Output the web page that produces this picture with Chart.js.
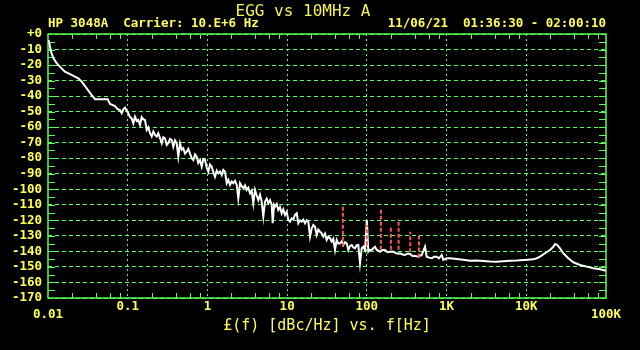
<!DOCTYPE html>
<html>
<head>
<meta charset="utf-8">
<script src="https://cdn.jsdelivr.net/npm/chart.js@4.4.0/dist/chart.umd.min.js"></script>
<style>
  html, body { margin: 0; padding: 0; background: #000; }
</style>
</head>
<body>
<canvas id="chart" width="640" height="350"></canvas>
<script>
// offset frequency [Hz] and phase noise [dBc/Hz]
var freq = [
  0.0101, 0.0103, 0.0109, 0.0117, 0.0129, 0.0141, 0.0163, 0.0189, 0.0218, 0.0240,
  0.0265, 0.0306, 0.0353, 0.0389, 0.0561, 0.0600, 0.0693, 0.0749, 0.0800, 0.0841,
  0.0881, 0.0925, 0.0971, 0.1017, 0.1068, 0.1122, 0.1175, 0.1234, 0.1297, 0.1358,
  0.1426, 0.1498, 0.1569, 0.1648, 0.1730, 0.1813, 0.1904, 0.2000, 0.2095, 0.2200,
  0.2311, 0.2420, 0.2541, 0.2669, 0.2796, 0.2936, 0.3084, 0.3230, 0.3392, 0.3563,
  0.3732, 0.3920, 0.4117, 0.4312, 0.4529, 0.4757, 0.4982, 0.5233, 0.5496, 0.5756,
  0.6046, 0.6350, 0.6650, 0.6985, 0.7337, 0.7684, 0.8071, 0.8478, 0.8878, 0.9325,
  0.9794, 1.026, 1.077, 1.132, 1.185, 1.245, 1.307, 1.369, 1.438, 1.511,
  1.582, 1.662, 1.746, 1.828, 1.920, 2.017, 2.112, 2.218, 2.330, 2.440,
  2.563, 2.692, 2.819, 2.961, 3.110, 3.257, 3.421, 3.593, 3.763, 3.953,
  4.152, 4.348, 4.567, 4.797, 5.024, 5.277, 5.543, 5.805, 6.097, 6.404,
  6.592, 6.844, 7.044, 7.398, 7.748, 8.138, 8.547, 8.951, 9.403, 9.877,
  10.34, 10.87, 11.41, 11.95, 12.56, 13.19, 13.81, 14.51, 15.24, 15.96,
  16.76, 17.61, 18.44, 19.36, 20.34, 21.30, 22.37, 23.50, 24.61, 25.84,
  27.14, 28.43, 29.86, 31.36, 32.85, 34.50, 36.24, 37.95, 39.86, 41.87,
  43.85, 46.06, 48.37, 50.66, 53.21, 55.89, 58.53, 61.48, 64.57, 67.62,
  71.03, 74.61, 78.13, 82.06, 86.19, 90.27, 94.82, 100, 104.3, 109.6,
  115.1, 120.5, 126.6, 133.0, 139.3, 146.3, 157.2, 169.0, 181.6, 195.3,
  209.9, 225.5, 242.4, 260.6, 280.2, 301.1, 323.6, 347.9, 374.0, 401.9,
  442.2, 487.9, 536.7, 563.7, 602.4, 651.3, 696.0, 752.6, 804.3, 869.4,
  910.5, 1004, 1105, 1341, 1609, 1969, 2341, 2891, 3509, 4258,
  5108, 6252, 7588, 9180, 10516, 12255, 13520, 14870, 17180, 19850,
  21840, 22940, 24510, 26500, 29150, 33680, 38910, 47240, 57310, 69350,
  84160, 100000
];
var dbc = [
  -4, -5, -11.4, -15.7, -18.9, -21, -24.3, -25.8, -27.5, -28.5,
  -30.7, -35, -39.3, -42, -42, -45, -46.4, -48.5, -49, -51,
  -48.5, -47.4, -49.4, -51, -53.5, -54.3, -57.5, -53.2, -56, -55.4,
  -58.6, -53.6, -55, -55.4, -61.8, -60, -63.9, -66, -62.9, -65,
  -66, -63.9, -67, -70.4, -66.5, -67.2, -71.5, -70.4, -67.5, -68.3,
  -72.6, -68.5, -70.4, -79, -70.4, -74.5, -73.6, -77, -75.8, -74,
  -76.8, -80, -81.1, -77.5, -79, -83, -81.1, -85.4, -80.5, -81.1,
  -86, -88.7, -84, -85.4, -89, -91.9, -88, -89.7, -88.5, -90.8,
  -87.5, -88.7, -96.1, -94, -97.2, -95, -96.1, -94.5, -97.2, -105.8,
  -96.1, -98, -99.4, -97.5, -100.4, -99, -102.6, -101, -109, -100.4,
  -104, -106.9, -103.5, -108, -117.6, -108, -106, -109, -107, -110.1,
  -121.9, -110, -111.2, -109.5, -113.3, -111.5, -115.5, -113, -116.5, -114.5,
  -119.8, -120.8, -118.7, -119.3, -116.5, -115.5, -121.9, -120, -120.8, -119.5,
  -121.9, -120, -120.8, -130.5, -125.1, -123, -124.1, -129.4, -126, -127.3,
  -128.3, -130.5, -128.5, -132.6, -130.5, -131.5, -133.7, -132, -139.1, -132.6,
  -135, -134.8, -133.5, -135.9, -134, -134.8, -139.1, -136.5, -135.9, -137.5,
  -138, -136, -135.9, -147.6, -138, -137, -139.1, -119.8, -140.2, -139,
  -139.1, -138, -137, -139.1, -139.5, -140.2, -139.1, -139.1, -140.5, -140.2,
  -140, -140.8, -141.5, -141.2, -142, -142.3, -141.3, -141.6, -143, -142.9,
  -143.4, -142.3, -137, -143.4, -144, -144.4, -143.5, -143.4, -144.5, -142.3,
  -145.5, -144.4, -144.4, -144.9, -145.3, -146, -145.8, -146.2, -146.5, -146.6,
  -146.3, -146, -145.8, -145.5, -145.3, -145.1, -144.4, -143.4, -141.2, -139.1,
  -137, -135.2, -135.9, -138, -141.2, -144.4, -147, -148.7, -149.8, -150.8,
  -151.5, -152.4
];

// discrete spurs (red dashed)
var spurFreq = [50, 100, 150, 200, 250, 350, 450];
var spurBase = [-137, -136, -139, -139, -139, -140.5, -144];
var spurTop = [-111, -123, -112.7, -124.7, -119.3, -127.3, -129.4];

var decades = [0.01, 0.1, 1, 10, 100, 1000, 10000, 100000];
var decadeLabels = ["0.01", "0.1", "1", "10", "100", "1K", "10K", "100K"];
var minorSteps = [2, 4, 6, 8];

var GREEN = "#55ff55";
var YELLOW = "#ffff55";
var RED = "#ff5555";
var MONO = "'DejaVu Sans Mono', 'Liberation Mono', monospace";

var headLeft = "HP 3048A  Carrier: 10.E+6 Hz";
var headRight = "11/06/21  01:36:30 - 02:00:10";

var trace = freq.map((f, i) => ({x: f, y: dbc[i]}));
var spurs = [];
spurFreq.forEach((f, i) => {
    spurs.push({x: f, y: spurBase[i]});
    spurs.push({x: f, y: spurTop[i]});
    spurs.push({x: f, y: null});
});

// frame, inner tick stubs and the header line
var frame = {
    id: "frame",
    beforeDatasetsDraw(chart) {
        var ctx = chart.ctx;
        var a = chart.chartArea;
        var xs = chart.scales.x;
        var ys = chart.scales.y;
        ctx.save();
        ctx.strokeStyle = GREEN;
        ctx.lineWidth = 1;
        ctx.beginPath();
        for (var v = -165; v < 0; v += 5) {
            var py = Math.round(ys.getPixelForValue(v)) + 0.5;
            ctx.moveTo(a.left, py); ctx.lineTo(a.left + 7, py);
            ctx.moveTo(a.right - 7, py); ctx.lineTo(a.right, py);
        }
        decades.slice(0, -1).forEach(d => {
            minorSteps.forEach(m => {
                var px = Math.round(xs.getPixelForValue(d * m)) + 0.5;
                ctx.moveTo(px, a.top); ctx.lineTo(px, a.top + 5);
                ctx.moveTo(px, a.bottom); ctx.lineTo(px, a.bottom - 5);
            });
        });
        ctx.stroke();
        ctx.lineWidth = 1.5;
        ctx.strokeRect(a.left, a.top, a.right - a.left, a.bottom - a.top);

        ctx.fillStyle = YELLOW;
        ctx.font = "bold 12.5px " + MONO;
        ctx.textBaseline = "middle";
        ctx.textAlign = "left";
        ctx.fillText(headLeft, a.left, a.top - 10);
        ctx.textAlign = "right";
        ctx.fillText(headRight, a.right, a.top - 10);
        ctx.restore();
    }
};

function isEdge(i) {
    return i === 0 || i === decades.length - 1;
}

new Chart(document.getElementById("chart"), {
    type: "line",
    data: {
        datasets: [{
            data: spurs,
            borderColor: RED,
            borderWidth: 2,
            borderDash: [4, 2],
            pointRadius: 0,
            spanGaps: false
        }, {
            data: trace,
            borderColor: "#ffffff",
            borderWidth: 2,
            pointRadius: 0,
            tension: 0
        }]
    },
    options: {
        responsive: false,
        animation: false,
        layout: {padding: {left: 0, right: 34, top: 0, bottom: 0}},
        plugins: {
            legend: {display: false},
            tooltip: {enabled: false},
            title: {
                display: true,
                text: "EGG vs 10MHz A",
                color: "#f2f250",
                font: {family: MONO, size: 16, weight: "normal"},
                padding: {top: 2.4, bottom: 12.4}
            }
        },
        scales: {
            x: {
                type: "logarithmic",
                min: 0.01,
                max: 100000,
                afterBuildTicks: s => { s.ticks = decades.map(v => ({value: v})); },
                afterFit: s => { s.height = 52; },
                grid: {
                    color: c => isEdge(c.index) ? "rgba(0,0,0,0)" : GREEN,
                    drawTicks: false,
                    lineWidth: 1
                },
                border: {display: false, dash: [2, 3]},
                ticks: {
                    autoSkip: false,
                    maxRotation: 0,
                    padding: 1,
                    color: YELLOW,
                    font: c => ({family: MONO, size: 12.5, weight: "bold", lineHeight: isEdge(c.index) ? 0.83 : 1.2}),
                    callback: (v, i) => isEdge(i) ? ["", decadeLabels[i]] : decadeLabels[i]
                },
                title: {
                    display: true,
                    text: "£(f) [dBc/Hz] vs. f[Hz]",
                    color: YELLOW,
                    font: {family: MONO, size: 15, weight: "normal"},
                    padding: {top: 0, bottom: 15}
                }
            },
            y: {
                min: -170,
                max: 0,
                afterFit: s => { s.width = 48; },
                grid: {color: GREEN, drawTicks: false, lineWidth: 1},
                border: {display: false, dash: [4, 3]},
                ticks: {
                    stepSize: 10,
                    maxTicksLimit: 20,
                    autoSkip: false,
                    padding: 6,
                    color: YELLOW,
                    font: {family: MONO, size: 12.5, weight: "bold"},
                    callback: v => v === 0 ? "+0" : String(v)
                }
            }
        }
    },
    plugins: [frame]
});
</script>
</body>
</html>
